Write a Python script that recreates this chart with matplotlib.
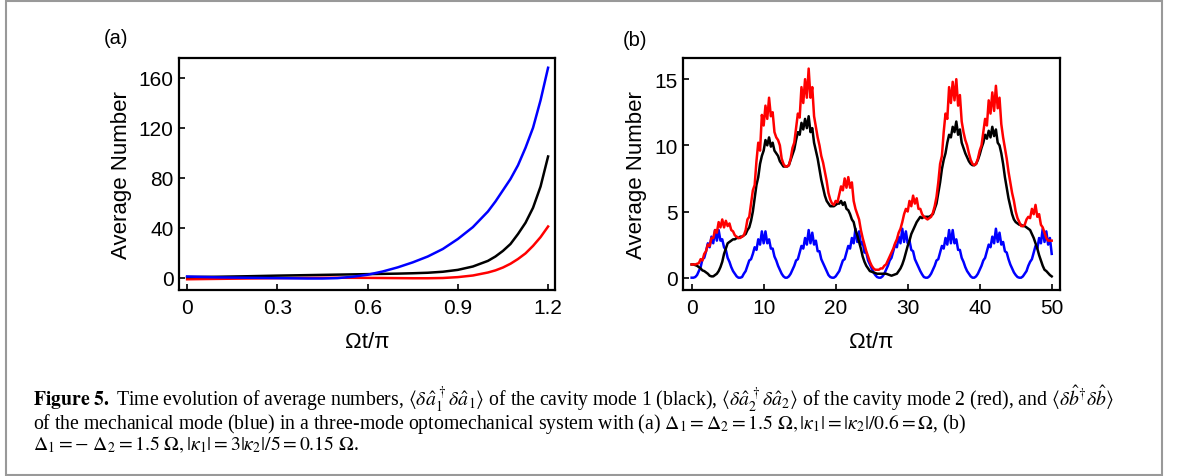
import numpy as np
import matplotlib
matplotlib.use("Agg")
import matplotlib.pyplot as plt
from matplotlib.patches import Rectangle

plt.rcParams['font.family'] = ['Liberation Sans', 'DejaVu Sans']
plt.rcParams['mathtext.fontset'] = 'stix'

# ---------------- Panel (a) data ----------------
t_a = [0, 0.1, 0.2, 0.3, 0.4, 0.45, 0.5, 0.55, 0.6, 0.65, 0.7, 0.75, 0.8, 0.85,
       0.9, 0.95, 1.0, 1.025, 1.05, 1.075, 1.1, 1.125, 1.15, 1.175, 1.2]
blue_a = [1.0, 0.3, 0.0, -0.3, -0.6, -0.6, -0.3, 0.8, 2.4, 5.0, 8.3, 12.3, 17.0, 23.0,
          31.0, 40.5, 53.0, 61.0, 70.0, 79.0, 90.0, 104.0, 120.0, 142.0, 168.0]
black_a = [0.6, 0.8, 1.2, 1.7, 2.1, 2.3, 2.5, 2.7, 2.9, 3.1, 3.3, 3.6, 4.0, 4.8,
           6.3, 9.0, 13.5, 17.0, 21.5, 27.0, 35.0, 44.0, 56.0, 73.0, 97.0]
red_a = [-1.2, -0.9, -0.6, -0.3, -0.1, -0.05, 0.0, -0.05, -0.1, -0.2, -0.3, -0.4, -0.4, -0.2,
         0.5, 1.8, 4.2, 5.9, 8.2, 11.2, 15.0, 19.5, 25.5, 32.5, 41.0]

# ---------------- Panel (b) data (t step 0.25, rows = one unit of t) ----------------
red_b = [1.0, 1.0, 1.0, 1.05,
         1.1, 1.4, 1.3, 1.8,
         2.0, 2.5, 2.4, 3.0,
         3.0, 3.6, 3.4, 4.2,
         3.8, 4.4, 3.8, 4.3,
         3.9, 4.1, 3.6, 3.5,
         3.2, 3.1, 3.0, 3.0,
         3.1, 3.2, 3.6, 4.4,
         4.6, 5.6, 6.6, 7.0,
         8.8, 10.2, 9.6, 12.3,
         11.5, 13.0, 12.0, 13.6,
         12.2, 12.5, 11.0, 10.6,
         10.4, 10.0, 9.0, 8.6,
         8.4, 8.4, 8.5, 9.0,
         9.8, 10.2, 11.3, 12.4,
         12.1, 14.4, 13.2, 15.0,
         13.6, 15.8, 13.6, 14.4,
         12.2, 11.4, 10.6, 10.0,
         9.2, 8.7, 8.0, 7.3,
         6.4, 5.9, 5.6, 5.5,
         5.8, 5.7, 6.3, 6.9,
         6.6, 7.5, 6.8, 7.6,
         6.8, 7.2, 5.8, 5.2,
         4.8, 4.4, 3.6, 3.0,
         2.5, 2.0, 1.6, 1.2,
         0.9, 0.7, 0.6, 0.6,
         0.6, 0.7, 0.7, 0.9,
         1.0, 1.3, 1.6, 1.9,
         2.2, 2.6, 2.9, 3.4,
         3.7, 4.2, 4.8, 5.2,
         5.0, 5.8, 5.4, 6.2,
         5.6, 6.0, 5.2, 5.2,
         4.8, 4.6, 4.5, 4.4,
         4.5, 4.6, 4.9, 5.4,
         6.1, 7.2, 8.6, 9.2,
         11.0, 12.4, 12.0, 14.4,
         13.2, 14.8, 13.4, 15.0,
         13.0, 13.8, 11.8, 11.0,
         10.4, 10.0, 9.4, 8.9,
         8.6, 8.5, 8.6, 9.0,
         9.6, 10.0, 11.0, 12.0,
         11.5, 13.4, 12.4, 14.0,
         12.6, 14.5, 12.8, 13.6,
         11.6, 10.6, 9.8, 9.0,
         8.0, 7.2, 6.4, 5.8,
         5.0, 4.5, 4.2, 3.9,
         3.9, 4.0, 4.4, 4.6,
         4.5, 5.2, 4.8, 5.5,
         4.6, 4.8, 4.0, 3.8,
         3.4, 3.0, 2.8, 2.8,
         2.8]

black_b = [1.0, 1.0, 0.95, 0.9,
           0.8, 0.7, 0.55, 0.5,
           0.4, 0.3, 0.15, 0.1,
           0.1, 0.2, 0.3, 0.5,
           0.8, 1.2, 1.8, 2.2,
           2.6, 2.7, 2.8, 2.9,
           2.9, 3.0, 3.0, 3.1,
           3.1, 3.2, 3.3, 3.6,
           3.8, 4.3, 5.0, 6.0,
           7.0, 7.6, 8.6, 9.2,
           9.6, 10.4, 10.0, 10.6,
           9.9, 10.2, 9.6, 9.4,
           9.2, 8.8, 8.6, 8.4,
           8.4, 8.4, 8.5, 8.9,
           9.3, 9.7, 10.4, 11.0,
           10.8, 11.7, 11.2, 12.0,
           11.3, 12.2, 11.0, 11.3,
           10.2, 9.6, 9.0, 8.2,
           7.4, 6.8, 6.2, 5.8,
           5.6, 5.4, 5.4, 5.4,
           5.5, 5.6, 5.6, 5.8,
           5.5, 5.7, 5.2, 5.1,
           4.8, 4.4, 4.2, 3.6,
           3.2, 2.7, 2.2, 1.6,
           1.2, 0.9, 0.7, 0.5,
           0.45, 0.4, 0.35, 0.3,
           0.3, 0.3, 0.3, 0.3,
           0.3, 0.25, 0.2, 0.15,
           0.2, 0.25, 0.3, 0.5,
           0.7, 1.0, 1.4, 1.9,
           2.4, 2.8, 3.3, 3.6,
           3.9, 4.2, 4.4, 4.6,
           4.5, 4.6, 4.6, 4.6,
           4.6, 4.7, 4.8, 5.2,
           5.6, 6.4, 7.2, 8.2,
           8.9, 9.4, 10.2, 10.8,
           10.6, 11.4, 11.0, 11.8,
           10.8, 11.2, 10.2, 9.8,
           9.4, 9.1, 8.8, 8.6,
           8.5, 8.5, 8.6, 8.9,
           9.3, 9.8, 10.2, 10.8,
           10.5, 11.1, 10.6, 11.4,
           10.7, 11.2, 10.2, 10.0,
           9.4, 8.6, 7.6, 6.8,
           6.0, 5.4, 4.8, 4.4,
           4.2, 4.1, 4.0, 4.0,
           3.9, 3.9, 3.8, 3.7,
           3.6, 3.3, 3.0, 2.6,
           2.2, 1.7, 1.3, 0.9,
           0.6, 0.5, 0.35, 0.2,
           0.1]

blue_b = [0.0, 0.0, 0.05, 0.2,
          0.5, 0.8, 1.4, 1.5,
          2.0, 2.6, 2.3, 3.1,
          2.6, 3.6, 2.8, 3.6,
          2.8, 2.9, 2.3, 2.1,
          1.5, 1.2, 0.8, 0.5,
          0.3, 0.1, 0.0, 0.0,
          0.05, 0.3, 0.5, 0.9,
          1.3, 1.4, 1.8, 2.3,
          2.1, 2.9, 2.5, 3.5,
          2.6, 3.5, 2.6, 2.9,
          2.2, 2.2, 1.6, 1.3,
          0.9, 0.6, 0.3, 0.1,
          0.0, 0.0, 0.1, 0.3,
          0.6, 0.9, 1.3, 1.4,
          1.9, 2.4, 2.2, 3.0,
          2.5, 3.6, 2.6, 3.4,
          2.5, 2.8, 2.0, 2.0,
          1.4, 1.1, 0.8, 0.5,
          0.2, 0.05, 0.0, 0.0,
          0.1, 0.3, 0.5, 0.9,
          1.3, 1.4, 1.9, 2.4,
          2.2, 3.0, 2.6, 3.7,
          2.7, 3.5, 2.5, 2.7,
          1.9, 1.9, 1.3, 1.0,
          0.7, 0.4, 0.2, 0.05,
          0.0, 0.0, 0.1, 0.3,
          0.6, 0.9, 1.3, 1.5,
          2.0, 2.5, 2.3, 3.1,
          2.6, 3.7, 2.7, 3.5,
          2.6, 2.8, 2.1, 2.0,
          1.4, 1.1, 0.8, 0.5,
          0.25, 0.05, 0.0, 0.0,
          0.1, 0.3, 0.6, 0.9,
          1.3, 1.4, 1.9, 2.4,
          2.2, 3.0, 2.5, 3.6,
          2.6, 3.6, 2.6, 2.9,
          2.1, 2.1, 1.5, 1.2,
          0.8, 0.5, 0.3, 0.1,
          0.0, 0.0, 0.1, 0.3,
          0.6, 0.9, 1.3, 1.5,
          2.0, 2.5, 2.3, 3.1,
          2.6, 3.7, 2.7, 3.4,
          2.5, 2.7, 2.0, 1.9,
          1.4, 1.0, 0.7, 0.4,
          0.2, 0.05, 0.0, 0.0,
          0.1, 0.3, 0.5, 0.9,
          1.2, 1.4, 1.9, 2.4,
          2.2, 3.0, 2.6, 3.7,
          2.7, 3.5, 2.5, 3.0,
          1.8]

t_b = np.arange(len(red_b)) * 0.25

xticks_a = [0, 0.3, 0.6, 0.9, 1.2]
xticklabels_a = ["0", "0.3", "0.6", "0.9", "1.2"]
yticks_a = [0, 40, 80, 120, 160]
xticks_b = [0, 10, 20, 30, 40, 50]
yticks_b = [0, 5, 10, 15]

ylabel = "Average Number"
xlabel = "Ωt/π"

caption_lines = [
    r"$\mathbf{Figure\ 5.}$ Time evolution of average numbers, "
    r"$\langle\delta\hat{a}_1^{\,\dagger}\delta\hat{a}_1\rangle$ of the cavity mode 1 (black), "
    r"$\langle\delta\hat{a}_2^{\,\dagger}\delta\hat{a}_2\rangle$ of the cavity mode 2 (red), and "
    r"$\langle\delta\hat{b}^{\dagger}\delta\hat{b}\rangle$",
    r"of the mechanical mode (blue) in a three-mode optomechanical system with (a) "
    r"$\Delta_1=\Delta_2=1.5\ \Omega, |\kappa_1|=|\kappa_2|/0.6=\Omega$, (b)",
    r"$\Delta_1=-\ \Delta_2=1.5\ \Omega, |\kappa_1|=3|\kappa_2|/5=0.15\ \Omega$.",
]

# ---------------- Figure ----------------
W, H = 1179, 477
fig = plt.figure(figsize=(W / 100, H / 100), dpi=100)

def px_axes(l, t, r, b):
    return fig.add_axes([l / W, 1 - b / H, (r - l) / W, (b - t) / H])

ax_a = px_axes(179, 59, 555, 291)
ax_b = px_axes(683, 59, 1060, 291)

lw = 1.8
ax_a.plot(t_a, red_a, color='#ff0000', lw=lw)
ax_a.plot(t_a, black_a, color='black', lw=lw)
ax_a.plot(t_a, blue_a, color='#0000ff', lw=lw)

ax_b.plot(t_b, blue_b, color='#0000ff', lw=lw)
ax_b.plot(t_b, black_b, color='black', lw=lw)
ax_b.plot(t_b, red_b, color='#ff0000', lw=lw)

ax_a.set_xlim(-0.027, 1.223)
ax_a.set_ylim(-9.8, 175.8)
ax_a.set_xticks(xticks_a)
ax_a.set_xticklabels(xticklabels_a)
ax_a.set_yticks(yticks_a)

ax_b.set_xlim(-1.2, 51.15)
ax_b.set_ylim(-0.93, 16.6)
ax_b.set_xticks(xticks_b)
ax_b.set_yticks(yticks_b)

for ax in (ax_a, ax_b):
    for s in ax.spines.values():
        s.set_linewidth(1.6)
    ax.tick_params(direction='in', length=4, width=1.2, labelsize=15,
                   top=False, right=False)
    ax.tick_params(axis='x', pad=6)
    ax.tick_params(axis='y', pad=4)
    ax.set_ylabel(ylabel, fontsize=16, labelpad=5)
    ax.set_xlabel(xlabel, fontsize=16, labelpad=10)

fig.text(116 / W, 1 - 38 / H, "(a)", fontsize=14.5, ha='center', va='center')
fig.text(635 / W, 1 - 40 / H, "(b)", fontsize=14.5, ha='center', va='center')

# caption as one multi-line text block
fig.text(33 / W, 1 - 384 / H, "\n".join(caption_lines), fontsize=14.2,
         family='Liberation Serif', ha='left', va='top', linespacing=0.88)

# frame
fig.patches.append(Rectangle((6 / W, 1 / H), (1162 - 6) / W, (476 - 2) / H,
                             transform=fig.transFigure, fill=False,
                             edgecolor='#999999', linewidth=1.5))

fig.savefig("out.png", dpi=100)
